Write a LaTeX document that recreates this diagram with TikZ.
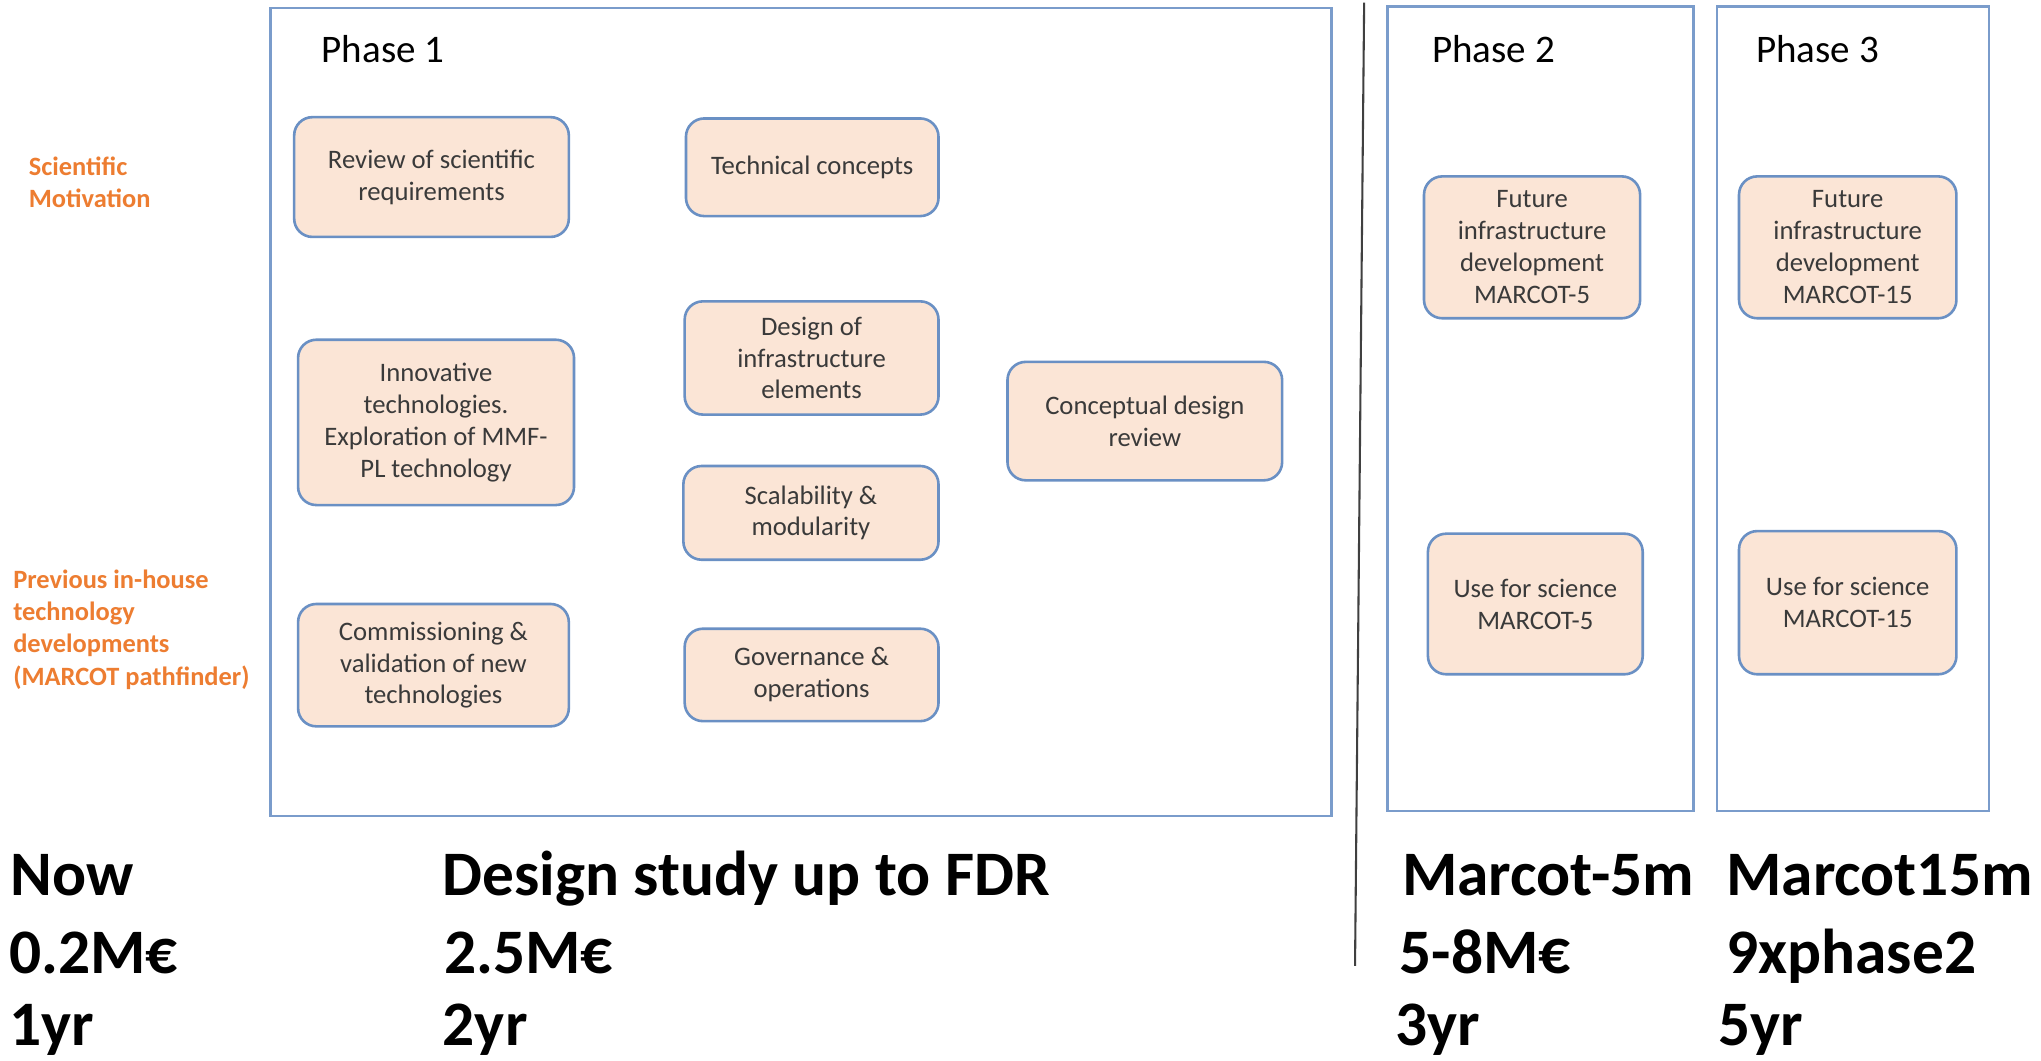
\documentclass[tikz,border=0pt]{standalone}
\usepackage{fontspec}
\setmainfont{Carlito}
\definecolor{peach}{HTML}{FBE5D6}
\definecolor{boxblue}{HTML}{6A90C4}
\definecolor{framblue}{HTML}{7A9CCB}
\definecolor{boxtext}{HTML}{3A3A3A}
\definecolor{orng}{HTML}{ED7D31}
\tikzset{
  taskbox/.style={draw=boxblue, line width=2, fill=peach, rounded corners=14,
    align=center, font=\fontsize{20.5}{24.5}\selectfont, text=boxtext, inner sep=0},
  phasebox/.style={draw=framblue, line width=2, inner sep=0},
  phaselabel/.style={anchor=base west, font=\fontsize{30}{34}\selectfont, text=black, inner sep=0},
  sidelabel/.style={anchor=north west, align=left, font=\bfseries\fontsize{20.3}{24.6}\selectfont, text=orng, inner sep=0},
  bottomtext/.style={anchor=base west, font=\bfseries\fontsize{48.7}{58}\selectfont, text=black, inner sep=0}
}
\begin{document}
\begin{tikzpicture}[x=1pt,y=-1pt]
\useasboundingbox[fill=white] (0,0) rectangle (1568,815);

% phase frames
\node[phasebox, minimum width=815, minimum height=621] (p1) at (615.5,316.5) {};
\node[phasebox, minimum width=235, minimum height=618] (p2) at (1183.5,314) {};
\node[phasebox, minimum width=209, minimum height=618] (p3) at (1423.5,314) {};

\node[phaselabel] (l1) at (247,48) {Phase 1};
\node[phaselabel] (l2) at (1100,48) {Phase 2};
\node[phaselabel] (l3) at (1349,48) {Phase 3};

% separator
\coordinate (vt) at (1048,2);
\coordinate (vb) at (1041,742);
\draw[line width=1.6, color=black!75] (vt) -- (vb);

% side labels
\node[sidelabel] (sm) at (22,120) {Scientific\\Motivation};
\node[sidelabel] (pd) at (10,438) {Previous in-house\\technology\\developments\\(MARCOT pathfinder)};

% phase 1 tasks
\node[taskbox, minimum width=211, minimum height=92] (rev) at (331.5,136) {Review of scientific\\requirements};
\node[taskbox, minimum width=194, minimum height=75] (tech) at (624,128.5) {Technical concepts};
\node[taskbox, minimum width=212, minimum height=127] (inn) at (335,324.5) {Innovative\\technologies.\\Exploration of MMF-\\PL technology};
\node[taskbox, minimum width=195, minimum height=87] (des) at (623.5,275) {Design of\\infrastructure\\elements};
\node[taskbox, minimum width=211, minimum height=91] (cdr) at (879.5,323.5) {Conceptual design\\review};
\node[taskbox, minimum width=196, minimum height=72] (scal) at (623,394) {Scalability \&\\modularity};
\node[taskbox, minimum width=208, minimum height=94] (comm) at (333,511) {Commissioning \&\\validation of new\\technologies};
\node[taskbox, minimum width=195, minimum height=71] (gov) at (623.5,518.5) {Governance \&\\operations};

% phase 2 / 3 tasks
\node[taskbox, minimum width=166, minimum height=109] (f5) at (1177,190) {Future\\infrastructure\\development\\MARCOT-5};
\node[taskbox, minimum width=165, minimum height=108] (u5) at (1179.5,464) {Use for science\\MARCOT-5};
\node[taskbox, minimum width=167, minimum height=109] (f15) at (1419.5,190) {Future\\infrastructure\\development\\MARCOT-15};
\node[taskbox, minimum width=167, minimum height=110] (u15) at (1419.5,463) {Use for science\\MARCOT-15};

% bottom texts
\node[bottomtext] (b1) at (8,688) {Now};
\node[bottomtext] (b2) at (7,748) {0.2M€};
\node[bottomtext] (b3) at (7,803) {1yr};
\node[bottomtext] (b4) at (340,688) {Design study up to FDR};
\node[bottomtext] (b5) at (341,748) {2.5M€};
\node[bottomtext] (b6) at (340,803) {2yr};
\node[bottomtext] (b7) at (1077,688) {Marcot-5m};
\node[bottomtext] (b8) at (1075,748) {5-8M€};
\node[bottomtext] (b9) at (1072,803) {3yr};
\node[bottomtext] (b10) at (1326,688) {Marcot15m};
\node[bottomtext] (b11) at (1326,748) {9xphase2};
\node[bottomtext] (b12) at (1320,803) {5yr};
\end{tikzpicture}
\end{document}
